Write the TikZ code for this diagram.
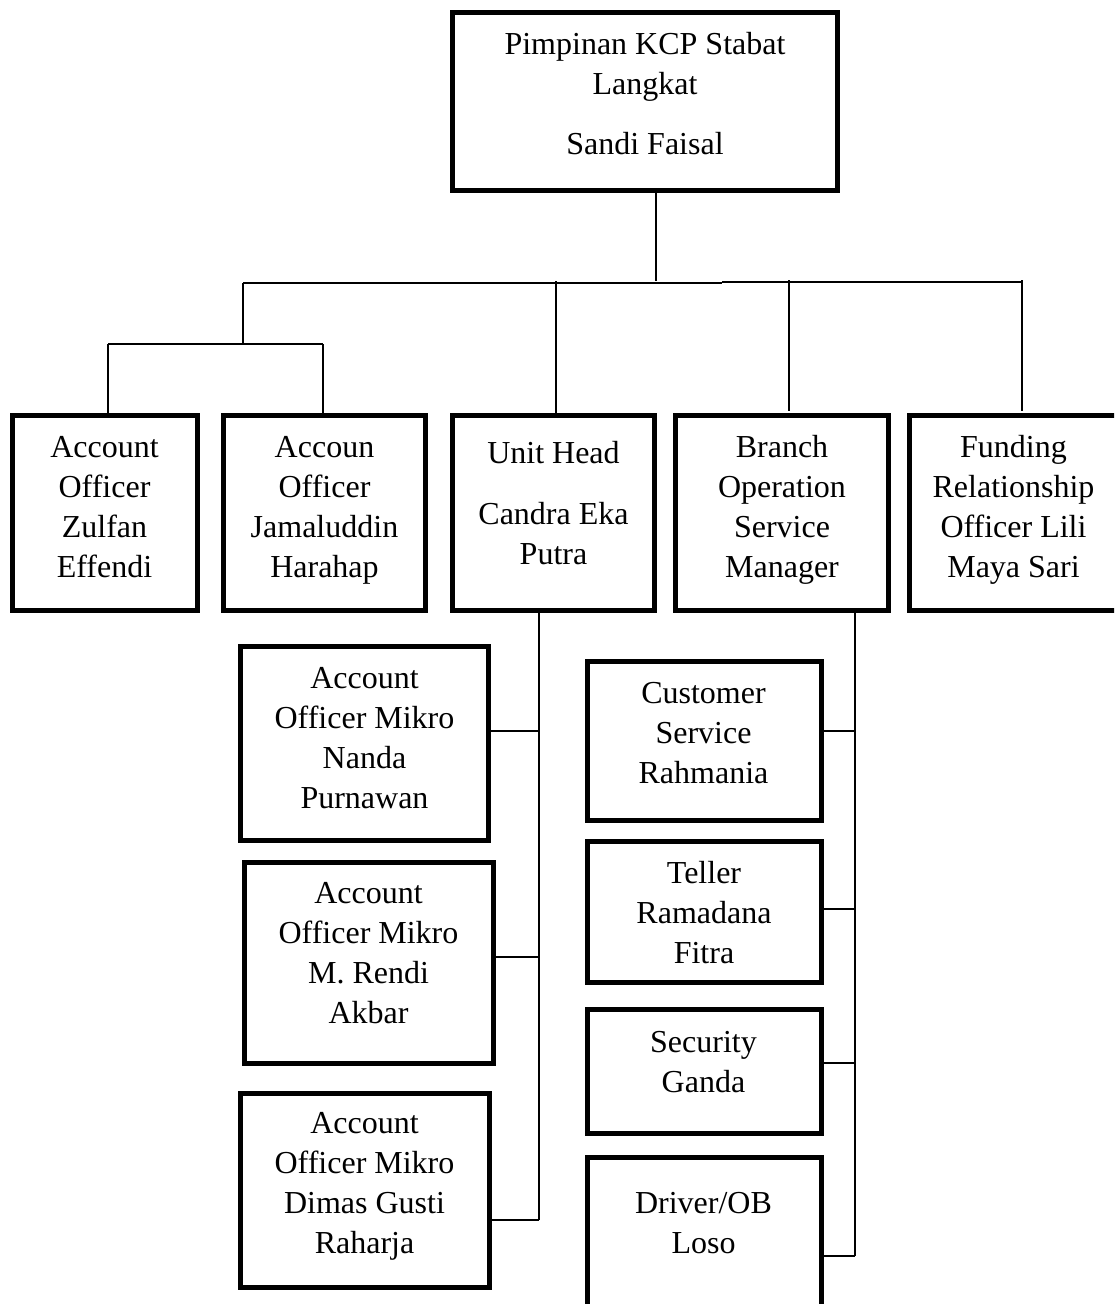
\documentclass[tikz,border=0pt]{standalone}
\usepackage{fontspec}
\setmainfont{Liberation Serif}
\begin{document}
\begin{tikzpicture}[x=1pt,y=-1pt,
  box/.style={draw,line width=5pt,minimum width=#1,inner sep=0pt,outer sep=0pt},
  txt/.style={align=center,inner sep=0pt,font=\fontsize{32}{40}\selectfont},
  conn/.style={line width=1.8pt}]
\clip (0,0) rectangle (1114,1304);
\fill[white] (0,0) rectangle (1114,1304);
% boxes
\node[box=385pt,minimum height=178pt] (top) at (645,101.5) {};
\node[box=185pt,minimum height=195pt] (b1) at (104.5,513) {};
\node[box=202pt,minimum height=195pt] (b2) at (324.5,513) {};
\node[box=202pt,minimum height=195pt] (b3) at (553.5,513) {};
\node[box=213pt,minimum height=195pt] (b4) at (782,513) {};
\node[box=207.5pt,minimum height=195pt] (b5) at (1013.25,513) {};
\node[box=248pt,minimum height=194pt] (m1) at (364.5,743.5) {};
\node[box=248.5pt,minimum height=201pt] (m2) at (368.75,963) {};
\node[box=248.5pt,minimum height=194pt] (m3) at (364.75,1190.5) {};
\node[box=234pt,minimum height=159pt] (s1) at (704.5,741) {};
\node[box=234pt,minimum height=141pt] (s2) at (704.5,912) {};
\node[box=234pt,minimum height=124pt] (s3) at (704.5,1071.5) {};
\node[box=234pt,minimum height=172.5pt] (s4) at (704.5,1243.75) {};
% texts
\node[txt] (ttop) at (645,96) {\strut Pimpinan KCP Stabat\\Langkat\\[20pt]Sandi Faisal\strut};
\node[txt] (tb1) at (104.5,509) {\strut Account\\Officer\\Zulfan\\Effendi\strut};
\node[txt] (tb2) at (324.5,509) {\strut Accoun\\Officer\\Jamaluddin\\Harahap\strut};
\node[txt] (tb3) at (553.5,505.5) {\strut Unit Head\\[21pt]Candra Eka\\Putra\strut};
\node[txt] (tb4) at (782,509) {\strut Branch\\Operation\\Service\\Manager\strut};
\node[txt] (tb5) at (1013.5,509) {\strut Funding\\Relationship\\Officer Lili\\Maya Sari\strut};
\node[txt] (tm1) at (364.5,740) {\strut Account\\Officer Mikro\\Nanda\\Purnawan\strut};
\node[txt] (tm2) at (368.5,955) {\strut Account\\Officer Mikro\\M. Rendi\\Akbar\strut};
\node[txt] (tm3) at (364.5,1185) {\strut Account\\Officer Mikro\\Dimas Gusti\\Raharja\strut};
\node[txt] (ts1) at (703.5,735) {\strut Customer\\Service\\Rahmania\strut};
\node[txt] (ts2) at (704,915) {\strut Teller\\Ramadana\\Fitra\strut};
\node[txt] (ts3) at (703.5,1064) {\strut Security\\Ganda\strut};
\node[txt] (ts4) at (703.5,1225) {\strut Driver/OB\\Loso\strut};
% connector coordinates
\coordinate (j0) at (656,281);
\coordinate (hL) at (243,283);
\coordinate (hM) at (722,283);
\coordinate (hM2) at (722,282);
\coordinate (hR) at (1023,282);
\coordinate (g1) at (243,344);
\coordinate (g2) at (108,344);
\coordinate (g3) at (323,344);
\coordinate (u1) at (539,731);
\coordinate (u2) at (539,957);
\coordinate (u3) at (539,1220);
\coordinate (v1) at (855,731);
\coordinate (v2) at (855,909);
\coordinate (v3) at (855,1063);
\coordinate (v4) at (855,1256);
% connectors
\draw[conn] (top.south -| j0) -- (j0);
\draw[conn] (hL) -- (hM);
\draw[conn] (hM2) -- (hR);
\draw[conn] (hL) -- (g1);
\draw[conn] (g2) -- (g3);
\draw[conn] (g2) -- (b1.north -| g2);
\draw[conn] (g3) -- (b2.north -| g3);
\draw[conn] (556,281) -- (b3.north -| 556,0);
\draw[conn] (789,280) -- (789,411);
\draw[conn] (1022,280) -- (1022,411);
\draw[conn] (b3.south -| u1) -- (u3);
\draw[conn] (u1) -- (u1 -| m1.east);
\draw[conn] (u2) -- (u2 -| m2.east);
\draw[conn] (u3) -- (u3 -| m3.east);
\draw[conn] (b4.south -| v1) -- (v4);
\draw[conn] (v1) -- (v1 -| s1.east);
\draw[conn] (v2) -- (v2 -| s2.east);
\draw[conn] (v3) -- (v3 -| s3.east);
\draw[conn] (v4) -- (v4 -| s4.east);
\end{tikzpicture}
\end{document}
